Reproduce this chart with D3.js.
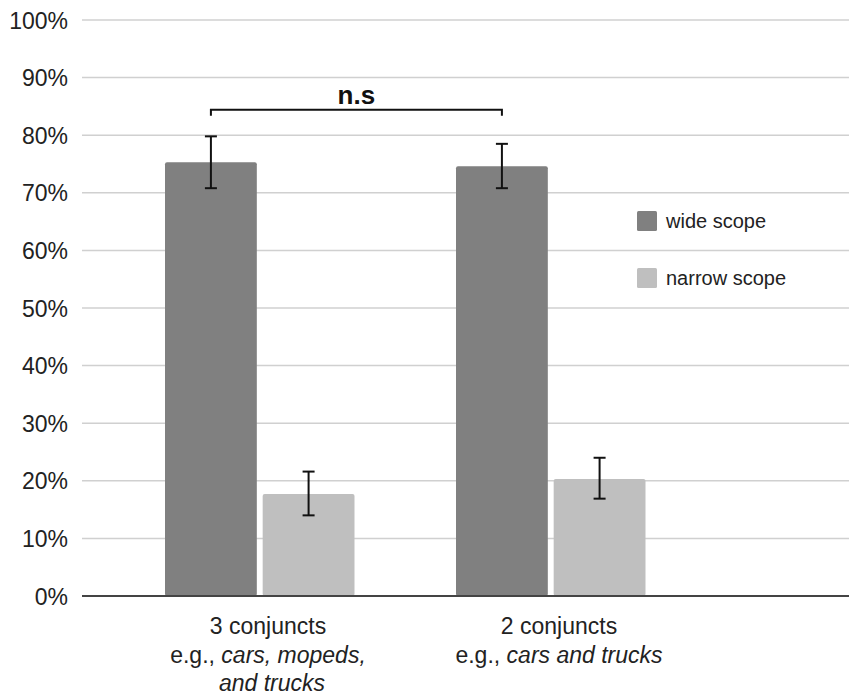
<!DOCTYPE html>
<html><head><meta charset="utf-8">
<script src="https://cdn.jsdelivr.net/npm/d3@7"></script>
<style>body{margin:0;background:#fff}svg{display:block}text{font-family:"Liberation Sans",Arial,sans-serif}</style>
</head><body>
<script>
const categories = ["3 conjuncts", "2 conjuncts"];
const catLine2 = [["e.g., ", "cars, mopeds,"], ["e.g., ", "cars and trucks"]];
const catLine3 = ["and trucks", ""];
const series = ["wide scope", "narrow scope"];
const wideValues = [75.3, 74.6];
const wideLow = [70.8, 70.8];
const wideHigh = [79.8, 78.5];
const narrowValues = [17.7, 20.3];
const narrowLow = [14.0, 16.9];
const narrowHigh = [21.6, 24.0];
const yTicks = [0,10,20,30,40,50,60,70,80,90,100];
const colors = ["#808080", "#bfbfbf"];

const W = 849, H = 696;
const svg = d3.select("body").append("svg").attr("width", W).attr("height", H);
const y = d3.scaleLinear().domain([0, 100]).range([596, 20]);
const x0 = d3.scaleBand().domain(categories).range([114.5, 696.5]).paddingInner(0);
const x1 = d3.scaleBand().domain(series).range([50.5, 240]).paddingInner(0.06);

// grid
svg.append("g").selectAll("line").data(yTicks.filter(d => d > 0)).join("line")
  .attr("x1", 82).attr("x2", W).attr("y1", d => y(d)).attr("y2", d => y(d))
  .attr("stroke", "#d0d0d0").attr("stroke-width", 1.5);

// y labels
const yAxis = d3.axisLeft(y).tickValues(yTicks).tickFormat(d => d + "%").tickSize(0).tickPadding(14);
const ya = svg.append("g").attr("transform", "translate(82,0)").call(yAxis);
ya.select(".domain").remove();
ya.selectAll("text").attr("font-size", 23).attr("fill", "#222").attr("font-family", '"Liberation Sans",Arial,sans-serif').attr("dy", "0.35em");

const rows = [];
categories.forEach((c, i) => {
  rows.push({c, s: series[0], v: wideValues[i], lo: wideLow[i], hi: wideHigh[i], col: colors[0]});
  rows.push({c, s: series[1], v: narrowValues[i], lo: narrowLow[i], hi: narrowHigh[i], col: colors[1]});
});

svg.append("g").selectAll("rect").data(rows).join("rect")
  .attr("x", d => x0(d.c) + x1(d.s)).attr("width", x1.bandwidth())
  .attr("y", d => y(d.v)).attr("height", d => y(0) - y(d.v))
  .attr("rx", 2).attr("fill", d => d.col);

// axis line
svg.append("line").attr("x1", 82).attr("x2", W).attr("y1", y(0)).attr("y2", y(0))
  .attr("stroke", "#444").attr("stroke-width", 1.8);

// error bars
const eb = svg.append("g").attr("stroke", "#111").attr("stroke-width", 2).attr("fill", "none");
rows.forEach(d => {
  const cx = x0(d.c) + x1(d.s) + x1.bandwidth() / 2;
  eb.append("line").attr("x1", cx).attr("x2", cx).attr("y1", y(d.lo)).attr("y2", y(d.hi));
  eb.append("line").attr("x1", cx - 6).attr("x2", cx + 6).attr("y1", y(d.lo)).attr("y2", y(d.lo));
  eb.append("line").attr("x1", cx - 6).attr("x2", cx + 6).attr("y1", y(d.hi)).attr("y2", y(d.hi));
});

// significance bracket
const bx1 = x0(categories[0]) + x1(series[0]) + x1.bandwidth() / 2;
const bx2 = x0(categories[1]) + x1(series[0]) + x1.bandwidth() / 2;
const by = y(84.4);
svg.append("path").attr("d", `M${bx1},${by + 6}V${by}H${bx2}V${by + 6}`)
  .attr("stroke", "#111").attr("stroke-width", 2).attr("fill", "none");
svg.append("text").attr("x", (bx1 + bx2) / 2).attr("y", by - 6).attr("text-anchor", "middle")
  .attr("font-size", 26).attr("font-weight", "bold").attr("font-family", '"DejaVu Sans",sans-serif').attr("fill", "#111").text("n.s");

// category labels
categories.forEach((c, i) => {
  const cx = x0(c) + x0.bandwidth() / 2 + 8;
  svg.append("text").attr("x", cx).attr("y", 634).attr("text-anchor", "middle")
    .attr("font-size", 23).attr("fill", "#222").text(c);
  const t = svg.append("text").attr("x", cx).attr("y", 663).attr("text-anchor", "middle")
    .attr("font-size", 23).attr("fill", "#222");
  t.append("tspan").text(catLine2[i][0]);
  t.append("tspan").attr("font-style", "italic").text(catLine2[i][1]);
  if (catLine3[i]) svg.append("text").attr("x", cx + 4).attr("y", 691).attr("text-anchor", "middle")
    .attr("font-size", 23).attr("font-style", "italic").attr("fill", "#222").text(catLine3[i]);
});

// legend
const lg = svg.append("g");
series.forEach((s, i) => {
  const ly = 211 + i * 57;
  lg.append("rect").attr("x", 637).attr("y", ly).attr("width", 20).attr("height", 20).attr("rx", 1.5).attr("fill", colors[i]);
  lg.append("text").attr("x", 666).attr("y", ly + 10).attr("dy", "0.35em").attr("font-size", 20).attr("fill", "#222").text(s);
});
</script>
</body></html>
